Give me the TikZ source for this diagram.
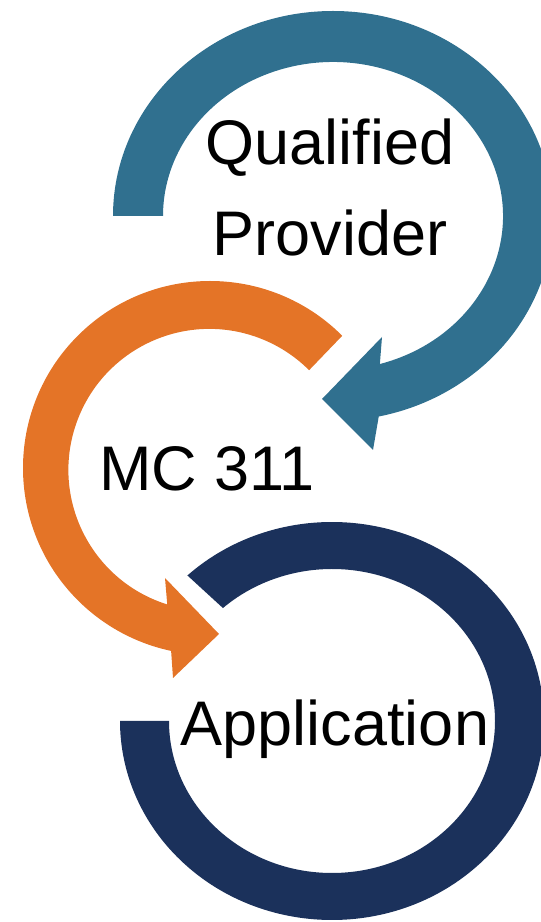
\documentclass[tikz,border=0pt]{standalone}
\usepackage{fontspec}
\setmainfont{Liberation Sans}
\usepackage{tikz}
\usetikzlibrary{positioning}

\definecolor{qpblue}{RGB}{48,112,143}
\definecolor{mcorange}{RGB}{228,116,39}
\definecolor{appnavy}{RGB}{27,49,91}

\begin{document}
\begin{tikzpicture}[
    x=1pt, y=1pt,
    word/.style={font=\fontsize{63}{91}\selectfont, align=center, inner sep=0pt},
    band/.style={draw=none},
    qpband/.style={band, fill=qpblue},
    mcband/.style={band, fill=mcorange},
    appband/.style={band, fill=appnavy},
  ]
  \useasboundingbox (0,0) rectangle (541,922);

  % Centres of the three loops
  \coordinate (qpc) at (333,706);
  \coordinate (mcc) at (210,454);
  \coordinate (appc) at (332,201);

  % Qualified provider loop, clockwise, head points left
  \begin{scope}[shift={(qpc)}]
    \fill[qpband] (180:220 and 205)
      arc[start angle=180, end angle=-78, x radius=220, y radius=205]
      -- (40,-234) -- (-11,-183) -- (49,-121)
      -- (-74:170 and 154)
      arc[start angle=-74, end angle=180, x radius=170, y radius=154]
      -- cycle;
  \end{scope}

  % MC 311 loop, anticlockwise, head points right
  \begin{scope}[shift={(mcc)}]
    \fill[mcband] (45:187)
      arc[start angle=45, end angle=258, radius=187]
      -- (-37,-210) -- (9,-166) -- (-45,-110)
      -- (252.6:143)
      arc[start angle=252.6, end angle=45, radius=141]
      -- cycle;
  \end{scope}

  % Application loop, open at the upper left
  \begin{scope}[shift={(appc)}]
    \fill[appband] (133:212 and 199)
      arc[start angle=133, end angle=-180, x radius=212, y radius=199]
      -- (-180:163 and 152)
      arc[start angle=-180, end angle=132, x radius=163, y radius=152]
      -- cycle;
  \end{scope}

  % Labels
  \node[word, anchor=base] (qual) at (330,666) {Qualified\\Provider};
  \node[word, anchor=base] (mc) at (207,431) {MC 311};
  \node[word, anchor=base] (app) at (335,176) {Application};
\end{tikzpicture}
\end{document}
